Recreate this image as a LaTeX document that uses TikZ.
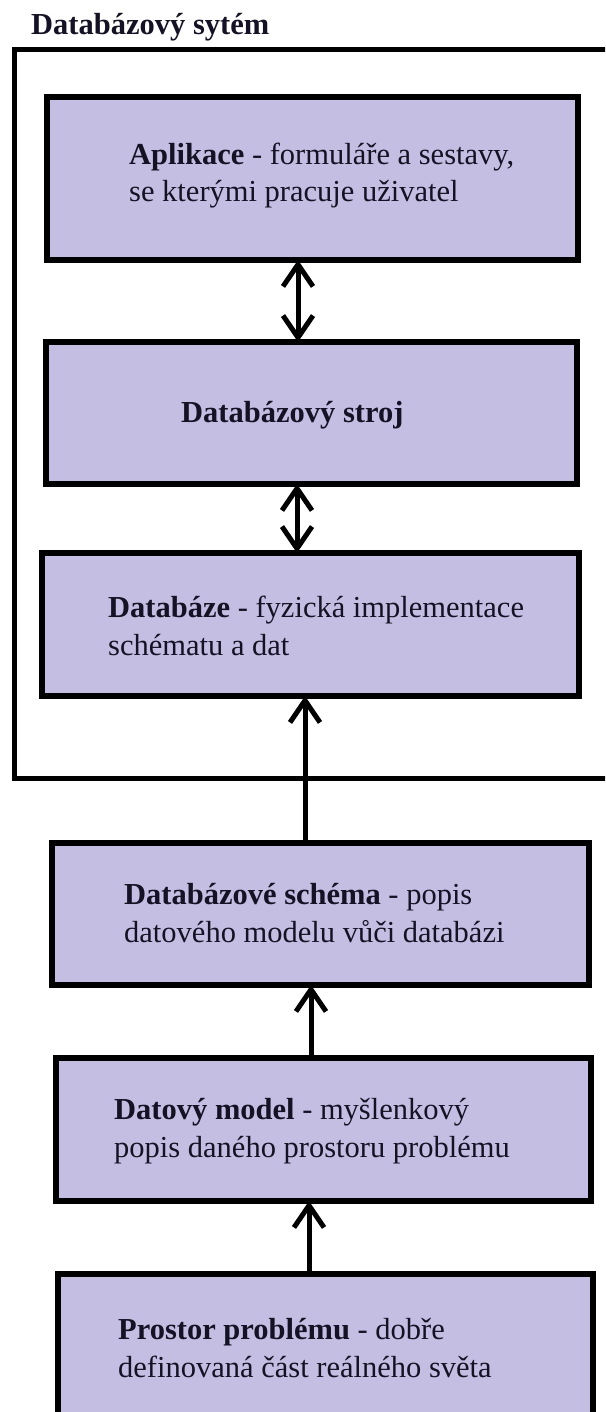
\documentclass[tikz,border=0pt]{standalone}
\usepackage{fontspec}
\setmainfont{Liberation Serif}
\usetikzlibrary{arrows.meta}
\definecolor{boxfill}{RGB}{197,190,227}
\definecolor{inkcol}{RGB}{20,18,36}
\tikzset{
  layer/.style={draw=black, fill=boxfill, line width=5.5pt, inner sep=0pt, outer sep=0pt},
  caption/.style={anchor=base west, inner sep=0pt, text=inkcol, align=left,
    font=\fontsize{30.5}{37.5}\selectfont},
  flow/.style={line width=5pt, -{Straight Barb[length=22pt,width=30pt,line width=5pt]}},
  twoway/.style={line width=5pt, {Straight Barb[length=22pt,width=30pt,line width=5pt]}-{Straight Barb[length=22pt,width=30pt,line width=5pt]}}
}
\begin{document}
\begin{tikzpicture}[x=1pt,y=-1pt]
\useasboundingbox (0,0) rectangle (605,1412);
\begin{scope}
\clip (0,0) rectangle (605,1412);

% outer frame of the database system
\node[draw=black, line width=5pt, inner sep=0pt, outer sep=0pt,
      minimum width=606pt, minimum height=728pt] (frame) at (317,414) {};
\node[anchor=base west, inner sep=0pt, text=inkcol,
      font=\fontsize{30.5}{36}\selectfont\bfseries] (title) at (31,35) {Databázový sytém};

% layers
\node[layer, minimum width=531pt, minimum height=163pt] (b1) at (312.5,178.5) {};
\node[layer, minimum width=531pt, minimum height=142pt] (b2) at (311.5,413) {};
\node[layer, minimum width=537pt, minimum height=143pt] (b3) at (310.5,624.5) {};
\node[layer, minimum width=537pt, minimum height=142pt] (b4) at (320.5,914) {};
\node[layer, minimum width=535pt, minimum height=143pt] (b5) at (323.5,1129.5) {};
\node[layer, minimum width=535pt, minimum height=160pt] (b6) at (325.5,1354) {};

% texts (anchored on the baseline of their last line)
\node[caption] (t1) at (129,202) {\textbf{Aplikace} - formuláře a sestavy,\\se kterými pracuje uživatel};
\node[caption] (t2) at (181,422) {\textbf{Databázový stroj}};
\node[caption] (t3) at (108,655) {\textbf{Databáze} - fyzická implementace\\schématu a dat};
\node[caption] (t4) at (124,942) {\textbf{Databázové schéma} - popis\\datového modelu vůči databázi};
\node[caption] (t5) at (114,1157) {\textbf{Datový model} - myšlenkový\\popis daného prostoru problému};
\node[caption] (t6) at (118,1377) {\textbf{Prostor problému} - dobře\\definovaná část reálného světa};

% connectors
\draw[twoway] ([xshift=-14.5pt]b1.south) -- ([xshift=-14.5pt]b1.south |- b2.north);
\draw[twoway] ([xshift=-14.5pt]b2.south) -- ([xshift=-14.5pt]b2.south |- b3.north);
\draw[flow] ([xshift=-15.5pt]b4.north) -- ([xshift=-15.5pt]b4.north |- b3.south);
\draw[flow] ([xshift=-12.5pt]b5.north) -- ([xshift=-12.5pt]b5.north |- b4.south);
\draw[flow] ([xshift=-16.5pt]b6.north) -- ([xshift=-16.5pt]b6.north |- b5.south);
\end{scope}
\end{tikzpicture}
\end{document}
